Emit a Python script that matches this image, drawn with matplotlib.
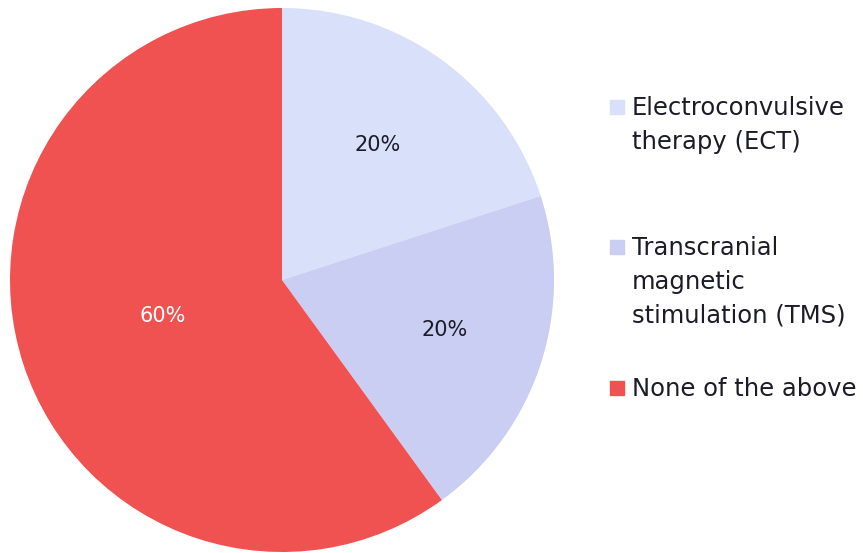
import matplotlib.pyplot as plt
import matplotlib.patches as mpatches
import numpy as np

labels = ["Electroconvulsive\ntherapy (ECT)",
          "Transcranial\nmagnetic\nstimulation (TMS)",
          "None of the above"]
values = [20, 20, 60]
colors = ["#d8e0fa", "#c9cef2", "#f05252"]
pct_colors = ["#1c1c28", "#1c1c28", "#ffffff"]
pct_dist = [0.6, 0.63, 0.46]

W, H = 863, 553
fig = plt.figure(figsize=(W / 100, H / 100), dpi=100)
ax = fig.add_axes([0, 0, 1, 1])

cx, cy, r = 282, H - 280, 272
wedges, _ = ax.pie(values, colors=colors, startangle=90, counterclock=False,
                   center=(cx, cy), radius=r, frame=True)
ax.set_xlim(0, W)
ax.set_ylim(0, H)
ax.axis("off")

# percentage labels
total = sum(values)
for w, v, d, c in zip(wedges, values, pct_dist, pct_colors):
    ang = np.deg2rad((w.theta1 + w.theta2) / 2)
    ax.text(cx + d * r * np.cos(ang), cy + d * r * np.sin(ang) + 3,
            f"{v / total * 100:.0f}%", ha="center", va="center",
            fontsize=15, color=c)

# legend drawn by hand so the square sits on the first line
legend_y = [107, 247, 388]
for lab, col, y in zip(labels, colors, legend_y):
    ax.add_patch(mpatches.Rectangle((610, H - y - 7), 14, 14, color=col))
    ax.text(632, H - y + 11, lab, ha="left", va="top", fontsize=17.5,
            color="#1c1c28", linespacing=1.5)

fig.savefig("out.png", dpi=100)
